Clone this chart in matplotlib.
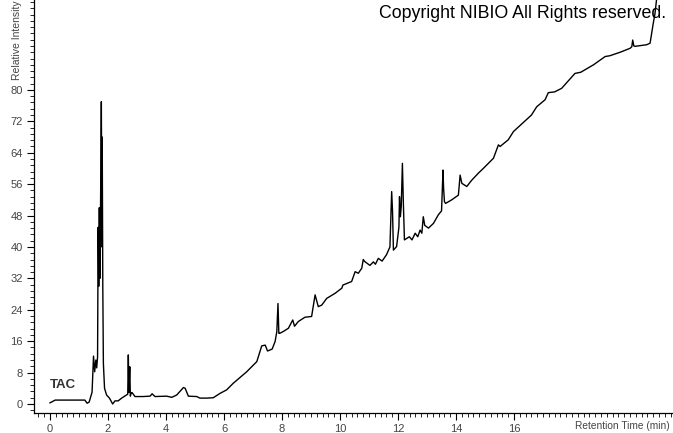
import matplotlib
matplotlib.use("Agg")
import matplotlib.pyplot as plt
from matplotlib.ticker import MultipleLocator

# TAC chromatogram
retention_time = [
    0.0, 0.18, 1.2, 1.28, 1.35, 1.45, 1.5, 1.54, 1.58, 1.61, 1.64, 1.66, 1.68,
    1.70, 1.72, 1.74, 1.76, 1.77, 1.79, 1.80, 1.82, 1.84, 1.88, 1.95, 2.05,
    2.16, 2.24, 2.35, 2.47, 2.64, 2.68, 2.70, 2.72, 2.75, 2.77, 2.80, 2.83,
    2.93, 3.2, 3.45, 3.52, 3.62, 4.02, 4.2, 4.37, 4.6, 4.66, 4.77, 5.06, 5.17,
    5.4, 5.63, 5.86, 6.09, 6.32, 6.78, 7.13, 7.3, 7.42, 7.5, 7.66, 7.76, 7.82,
    7.86, 7.89, 7.92, 8.05, 8.22, 8.37, 8.43, 8.56, 8.79, 9.02, 9.14, 9.25,
    9.37, 9.54, 9.83, 10.06, 10.1, 10.4, 10.52, 10.63, 10.75, 10.8, 10.85,
    11.03, 11.15, 11.22, 11.32, 11.45, 11.6, 11.72, 11.78, 11.81, 11.84, 11.95,
    12.03, 12.05, 12.08, 12.11, 12.15, 12.18, 12.22, 12.39, 12.48, 12.59,
    12.68, 12.76, 12.82, 12.87, 12.92, 13.05, 13.22, 13.39, 13.5, 13.55, 13.57,
    13.6, 13.64, 13.85, 14.08, 14.14, 14.2, 14.37, 14.54, 14.77, 14.94, 15.29,
    15.46, 15.52, 15.8, 15.98, 16.6, 16.78, 17.07, 17.18, 17.4, 17.64, 18.1,
    18.3, 18.74, 19.14, 19.3, 19.66, 20.0, 20.06, 20.09, 20.13, 20.17, 20.57,
    20.69, 20.8, 20.86, 20.92,
]
intensity = [
    0.3, 1.0, 1.0, 0.2, 0.5, 3.0, 12.2, 8.2, 11.2, 9.2, 12.0, 45.0, 30.0,
    50.0, 32.0, 48.0, 68.0, 77.0, 40.0, 68.0, 30.0, 10.4, 4.0, 2.3, 1.5,
    0.0, 0.8, 0.8, 1.5, 2.3, 2.5, 12.5, 3.0, 9.5, 2.0, 2.9, 2.9,
    1.9, 1.9, 2.0, 2.6, 1.9, 2.0, 1.7, 2.3, 4.2, 4.0, 2.0, 1.9, 1.5,
    1.5, 1.6, 2.7, 3.6, 5.3, 8.2, 10.8, 14.8, 15.0, 13.5, 14.0, 15.9, 18.4,
    25.6, 18.0, 18.0, 18.5, 19.3, 21.4, 19.8, 21.0, 22.1, 22.3, 27.8, 24.8,
    25.2, 26.9, 28.2, 29.5, 30.3, 31.2, 33.7, 33.3, 34.6, 36.8, 36.3,
    35.3, 36.2, 35.6, 37.1, 36.4, 38.0, 40.0, 54.1, 49.0, 39.2, 40.1,
    45.0, 52.8, 47.7, 50.3, 61.3, 52.0, 41.8, 42.6, 41.8, 43.5,
    42.6, 44.3, 43.5, 47.7, 45.5, 44.8, 46.0, 48.2, 49.2, 59.6, 55.0,
    51.5, 51.1, 52.0, 53.2, 58.3, 56.2, 55.4, 57.0, 58.8, 60.0, 62.6,
    66.0, 65.6, 67.3, 69.4, 73.6, 75.7, 77.5, 79.3, 79.5, 80.4, 84.2,
    84.5, 86.4, 88.5, 88.7, 89.6, 90.6, 91.0, 92.7, 91.2, 91.1, 91.5,
    91.9, 97.0, 99.5, 103.5,
]

plt.rcParams["font.family"] = ["Liberation Sans", "DejaVu Sans"]

fig = plt.figure(figsize=(6.73, 4.33), dpi=100)
ax = fig.add_axes([34 / 673, 20 / 433, 1 - 34 / 673, 1 - 20 / 433])

ax.plot(retention_time, intensity, color="black", lw=1.0)

ax.set_xlim(-0.552, 21.48)
ax.set_ylim(-2.29, 102.9)

ax.xaxis.set_minor_locator(MultipleLocator(0.2))
ax.yaxis.set_minor_locator(MultipleLocator(1.6))
ax.set_xticks(range(0, 17, 2))
ax.set_yticks(range(0, 81, 8))

for side in ("top", "right"):
    ax.spines[side].set_visible(False)
for side in ("left", "bottom"):
    ax.spines[side].set_linewidth(0.9)

ax.tick_params(which="major", direction="out", length=5, width=0.8,
               labelsize=8, labelcolor="#444444", pad=3)
ax.tick_params(which="minor", direction="out", length=3, width=0.6)

fig.text(17 / 673, 1.0, "Relative Intensity", rotation=90, ha="center",
         va="top", fontsize=7.5, color="#444444")
fig.text(670 / 673, 7 / 433, "Retention Time (min)", ha="right",
         va="center", fontsize=7.3, color="#444444")
fig.text(666 / 673, 1 - 14 / 433, "Copyright NIBIO All Rights reserved.",
         ha="right", va="center", fontsize=12.8, color="black")
ax.text(0.0, 4.8, "TAC", fontsize=9.5, fontweight="bold", color="#333333",
        ha="left", va="center")

fig.savefig("out.png", dpi=100)
